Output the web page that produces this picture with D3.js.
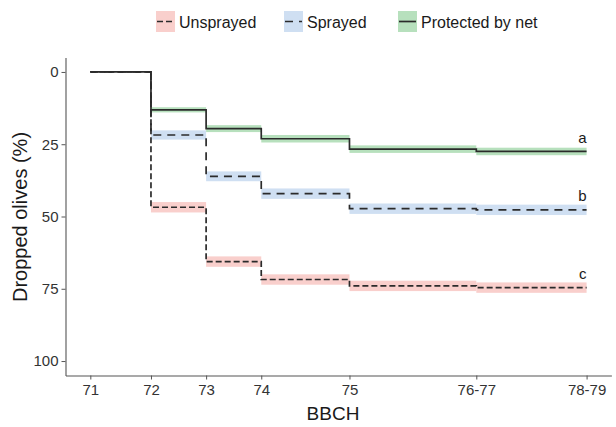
<!DOCTYPE html>
<html>
<head>
<meta charset="utf-8">
<script src="https://cdn.jsdelivr.net/npm/d3@7"></script>
<style>
  body { margin: 0; background: #fff; }
  text { font-family: "Liberation Sans", Arial, sans-serif; }
</style>
</head>
<body>
<svg id="chart" width="616" height="427"></svg>
<script>
// stages and their spacing (days from first sampling)
var stages = ["71", "72", "73", "74", "75", "76-77", "78-79"];
var days = [0, 11, 21, 31, 47, 70, 90];

// cumulative dropped olives (%), one value per stage
var unsprayed = [0, 46.8, 65.6, 71.8, 74.0, 74.6, 74.6];
var sprayed   = [0, 21.8, 36.1, 42.1, 47.3, 47.7, 47.7];
var netted    = [0, 13.1, 19.6, 23.1, 26.7, 27.5, 27.5];

// half width of the confidence band at each step
var unsprayedSe = [0, 1.8, 1.8, 1.8, 1.8, 1.8];
var sprayedSe   = [0, 1.6, 1.7, 1.8, 1.8, 1.8];
var nettedSe    = [0, 0.9, 1.2, 1.3, 1.3, 1.3];

var groupLetters = ["c", "b", "a"];
var yTicks = [0, 25, 50, 75, 100];

var series = [
    {name: "Unsprayed", values: unsprayed, se: unsprayedSe, fill: "#f9cfcc", dash: "6,3", letter: groupLetters[0]},
    {name: "Sprayed", values: sprayed, se: sprayedSe, fill: "#cfdff2", dash: "8,6", letter: groupLetters[1]},
    {name: "Protected by net", values: netted, se: nettedSe, fill: "#b7e0bd", dash: null, letter: groupLetters[2]}
];

var svg = d3.select("#chart");

var x = d3.scaleLinear().domain([-4.5, 94.5]).range([65.5, 611.4]);
var y = d3.scaleLinear().domain([-5, 105]).range([57.5, 375.5]);

// bands, one rectangle per step
series.forEach(function(s){
    var steps = s.se.map(function(se, i){
        return {x0: days[i], x1: days[i + 1], v: s.values[i], se: se};
    }).filter(function(d){ return d.se > 0; });
    svg.append("g").selectAll("rect")
        .data(steps)
        .enter()
        .append("rect")
        .attr("x", function(d){ return x(d.x0); })
        .attr("width", function(d){ return x(d.x1) - x(d.x0); })
        .attr("y", function(d){ return y(d.v - d.se); })
        .attr("height", function(d){ return y(d.v + d.se) - y(d.v - d.se); })
        .attr("fill", s.fill);
});

var line = d3.line()
    .x(function(d, i){ return x(days[i]); })
    .y(function(d){ return y(d); })
    .curve(d3.curveStepAfter);

series.forEach(function(s){
    svg.append("path")
        .attr("d", line(s.values))
        .attr("fill", "none")
        .attr("stroke", "#2b2b2b")
        .attr("stroke-width", 1.7)
        .attr("stroke-dasharray", s.dash);
});

// group letters
series.forEach(function(s){
    svg.append("text")
        .attr("x", x(days[days.length - 1]))
        .attr("y", y(s.values[s.values.length - 1]) - 8.5)
        .attr("text-anchor", "end")
        .attr("font-size", 15)
        .attr("fill", "#1a1a1a")
        .text(s.letter);
});

// axes
var xAxis = d3.axisBottom(x)
    .tickValues(days)
    .tickFormat(function(d, i){ return stages[i]; })
    .tickSize(4)
    .tickSizeOuter(0)
    .tickPadding(5);
var yAxis = d3.axisLeft(y)
    .tickValues(yTicks)
    .tickSize(4)
    .tickSizeOuter(0)
    .tickPadding(3);

var gx = svg.append("g").attr("transform", "translate(0," + y.range()[1] + ")").call(xAxis);
var gy = svg.append("g").attr("transform", "translate(" + x.range()[0] + ",0)").call(yAxis);
[gx, gy].forEach(function(g){
    g.select(".domain").attr("stroke", "#555").attr("stroke-width", 1.1);
    g.selectAll(".tick line").attr("stroke", "#555");
    g.selectAll(".tick text")
        .attr("font-size", 15)
        .attr("fill", "#333")
        .style("font-family", "Liberation Sans, Arial, sans-serif");
});

svg.append("text")
    .attr("x", 333)
    .attr("y", 420)
    .attr("text-anchor", "middle")
    .attr("font-size", 19)
    .attr("fill", "#1a1a1a")
    .text("BBCH");

svg.append("text")
    .attr("transform", "translate(27,217) rotate(-90)")
    .attr("text-anchor", "middle")
    .attr("font-size", 20)
    .attr("fill", "#1a1a1a")
    .text("Dropped olives (%)");

// legend
var legendX = [156, 284, 398];
var legend = svg.append("g").selectAll("g")
    .data(series)
    .enter()
    .append("g")
    .attr("transform", function(d, i){ return "translate(" + legendX[i] + ",11)"; });
legend.append("rect")
    .attr("width", 19)
    .attr("height", 21)
    .attr("fill", function(d){ return d.fill; });
legend.append("line")
    .attr("x1", 1).attr("x2", 18)
    .attr("y1", 10.5).attr("y2", 10.5)
    .attr("stroke", "#2b2b2b")
    .attr("stroke-width", 1.7)
    .attr("stroke-dasharray", function(d){ return d.dash; });
legend.append("text")
    .attr("x", 23)
    .attr("y", 16.5)
    .attr("font-size", 16)
    .attr("fill", "#1a1a1a")
    .text(function(d){ return d.name; });
</script>
</body>
</html>
